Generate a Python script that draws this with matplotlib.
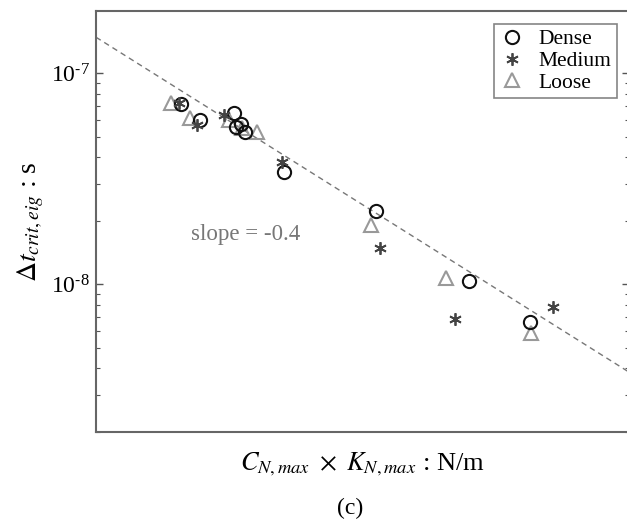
import matplotlib
matplotlib.use("Agg")
import matplotlib.pyplot as plt
from matplotlib.ticker import LogLocator, NullFormatter, FuncFormatter
import numpy as np

# C_N,max x K_N,max (N/m) and critical time step (s)
dense_x = [4.29e8, 5.94e8, 1.07e9, 1.10e9, 1.20e9, 1.28e9, 2.51e9, 1.21e10, 5.96e10, 1.69e11]
dense_y = [7.13e-8, 5.98e-8, 6.46e-8, 5.55e-8, 5.73e-8, 5.25e-8, 3.40e-8, 2.22e-8, 1.04e-8, 6.61e-9]

medium_x = [4.14e8, 5.63e8, 8.96e8, 2.42e9, 1.30e10, 4.69e10, 2.51e11]
medium_y = [7.21e-8, 5.67e-8, 6.33e-8, 3.79e-8, 1.48e-8, 6.83e-9, 7.78e-9]

loose_x = [3.61e8, 5.00e8, 9.75e8, 1.22e9, 1.58e9, 1.11e10, 4.02e10, 1.72e11]
loose_y = [7.21e-8, 6.12e-8, 5.98e-8, 5.48e-8, 5.25e-8, 1.91e-8, 1.07e-8, 5.86e-9]

# dashed fit line (slope -0.4 in log-log), end points
fit_x = [1.0e8, 9.31e11]
fit_y = [1.48e-7, 3.83e-9]

XLIM = (1.0e8, 9.31e11)
YLIM = (2.0e-9, 1.97e-7)

plt.rcParams["font.family"] = ["Liberation Serif", "DejaVu Serif"]
plt.rcParams["mathtext.fontset"] = "stix"

fig = plt.figure(figsize=(6.27, 5.19), dpi=100)
ax = fig.add_axes([96 / 627, 87 / 519, 533.5 / 627, 421 / 519])

ax.plot(fit_x, fit_y, ls=(0, (4, 3)), color="#777777", lw=1.0, zorder=1)

ax.plot(dense_x, dense_y, ls="none", marker="o", ms=9.5, mfc="none",
        mec="#111111", mew=1.5, label="Dense", zorder=3)
ax.plot(medium_x, medium_y, ls="none", marker=(6, 2, 0), ms=9, mec="#444444",
        mew=1.3, label="Medium", zorder=3)
ax.plot(loose_x, loose_y, ls="none", marker="^", ms=10, mfc="none",
        mec="#999999", mew=1.5, label="Loose", zorder=2)

ax.set_xscale("log")
ax.set_yscale("log")
ax.set_xlim(*XLIM)
ax.set_ylim(*YLIM)


def pow10(v, pos):
    return r"$\mathregular{10^{\text{-}%d}}$" % int(round(-np.log10(v)))


ax.yaxis.set_major_locator(LogLocator(base=10))
ax.yaxis.set_major_formatter(FuncFormatter(pow10))
ax.yaxis.set_minor_locator(LogLocator(base=10, subs=range(2, 10)))
ax.yaxis.set_minor_formatter(NullFormatter())
ax.tick_params(axis="x", which="both", bottom=False, top=False, labelbottom=False)
ax.tick_params(axis="y", which="major", direction="in", length=5, width=1,
               left=True, right=True, labelsize=17, color="#555555", pad=4)
ax.tick_params(axis="y", which="minor", direction="in", length=3, width=0.8,
               left=True, right=True, color="#555555")

for side in ax.spines.values():
    side.set_color("#666666")
    side.set_linewidth(1.5)

ax.set_ylabel(r"$\Delta t_{crit,eig}$ : s", fontsize=20, labelpad=4)
ax.set_xlabel(r"$C_{N,max}\ \times\ K_{N,max}$ : N/m", fontsize=19, labelpad=13)

ax.text(0.28, 0.47, "slope = -0.4", transform=ax.transAxes, fontsize=16.5,
        color="#777777", ha="center", va="center")

leg = ax.legend(loc="upper right", fontsize=15.5, frameon=True, fancybox=False,
                handlelength=1.2, handletextpad=0.6, labelspacing=0.08,
                borderpad=0.25, borderaxespad=0.6)
leg.get_frame().set_edgecolor("#666666")
leg.get_frame().set_linewidth(1.2)

fig.text(350 / 627, 1 - 508 / 519, "(c)", fontsize=17, ha="center", va="center")

fig.savefig("out.png", dpi=100)
